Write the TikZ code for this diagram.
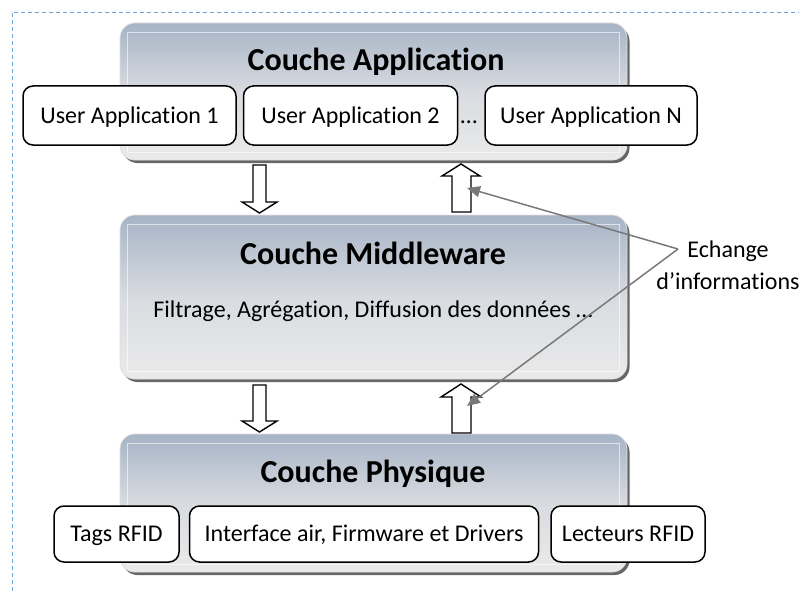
\documentclass[tikz,border=0pt]{standalone}
\usepackage{fontspec}
\setmainfont{Carlito}[Ligatures=NoCommon]
\usepackage{tikz}
\usetikzlibrary{arrows.meta,shapes,shadows,calc,positioning}
\definecolor{layertop}{RGB}{166,180,198}
\definecolor{layermid}{RGB}{216,219,224}
\definecolor{layerbot}{RGB}{234,234,234}
\definecolor{framecol}{RGB}{110,165,220}
\tikzstyle{layer} =[rounded corners=15pt, draw=gray!25, line width=0.8pt,
                    top color=layertop, bottom color=layerbot,
                    middle color=layermid, inner sep=0pt,
                    drop shadow={shadow xshift=2.5pt, shadow yshift=-3pt,
                    fill=black!60, opacity=1}]
\tikzstyle{bevel} =[draw=white, opacity=0.6, line width=0.6pt]
\tikzstyle{title} =[anchor=base, inner sep=0pt,
                    font=\fontsize{32}{36}\selectfont\bfseries]
\tikzstyle{sub}   =[draw, fill=white, rounded corners=10pt,
                    line width=1.5pt, minimum height=59pt, inner sep=0pt,
                    text height=20pt, text depth=5pt,
                    font=\fontsize{24}{28}\selectfont]
\tikzstyle{plain} =[inner sep=0pt, font=\fontsize{24}{32}\selectfont]
\tikzstyle{blockarrow}=[draw, fill=white, line width=1.4pt, line join=miter]
\tikzstyle{info}  =[draw=gray!95!black, line width=1.5pt,
                    -{Triangle[length=13pt, width=11pt]}]

\begin{document}
\begin{tikzpicture}[x=1pt, y=-1pt, node distance=6pt]
                \useasboundingbox (0,0) rectangle (799,591);
                \draw[framecol, line width=0.8pt, dash pattern=on 4pt off 3pt]
                        (12,591) -- (12,12) -- (799,12);

                % couches
                \node[layer, minimum width=507pt, minimum height=137pt] (app) at (373.5,91.5) {};
                \node[layer, minimum width=507pt, minimum height=164pt] (mid) at (373.5,297) {};
                \node[layer, minimum width=507pt, minimum height=138pt] (phy) at (373.5,503) {};
                \draw[bevel] ([shift={(8,10)}]app.north west) rectangle ([shift={(-8,-8)}]app.south east);
                \draw[bevel] ([shift={(8,10)}]mid.north west) rectangle ([shift={(-8,-8)}]mid.south east);
                \draw[bevel] ([shift={(8,10)}]phy.north west) rectangle ([shift={(-8,-8)}]phy.south east);

                \node[title] (apptitle) at (376,71) {Couche Application};
                \node[title] (midtitle) at (373,264) {Couche Middleware};
                \node[title] (phytitle) at (373,482) {Couche Physique};
                \node[plain, anchor=base] (midtext) at (373,317)
                        {Filtrage, Agrégation, Diffusion des données \ldots};

                % applications
                \node[sub, minimum width=213pt] (ua1) at (129.5,115.5) {User Application 1};
                \node[sub, minimum width=214pt, right=of ua1] (ua2) {User Application 2};
                \node[sub, minimum width=212pt, right=26pt of ua2] (uaN) {User Application N};
                \node[plain, anchor=base] (dots) at (469,123) {\ldots};

                % composants physiques
                \node[sub, minimum width=125pt, minimum height=56pt] (tags) at (116.5,534) {Tags RFID};
                \node[sub, minimum width=349pt, minimum height=56pt, right=9pt of tags] (iface)
                        {Interface air, Firmware et Drivers};
                \node[sub, minimum width=154pt, minimum height=56pt, right=11pt of iface] (lect)
                        {Lecteurs RFID};

                % fleches
                \draw[blockarrow] (253,165) -- (266,165) -- (266,202) -- (277,202)
                        -- (259.5,213) -- (242,202) -- (253,202) -- cycle;
                \draw[blockarrow] (253,385) -- (266,385) -- (266,421) -- (277,421)
                        -- (259.5,432) -- (242,421) -- (253,421) -- cycle;
                \draw[blockarrow] (452,212) -- (471,212) -- (471,176) -- (480,176)
                        -- (461,164) -- (442,176) -- (452,176) -- cycle;
                \draw[blockarrow] (452,433) -- (471,433) -- (471,397) -- (481,397)
                        -- (461,384) -- (441,397) -- (452,397) -- cycle;

                % echange
                \node[plain, align=center] (echange) at (728,265) {Echange\\d’informations};
                \coordinate (hub) at (678,249);
                \coordinate (upA) at (467,188);
                \coordinate (upB) at (467,406);
                \draw[info] (hub) -- (upA);
                \draw[info] (hub) -- (upB);

        \end{tikzpicture}
\end{document}
